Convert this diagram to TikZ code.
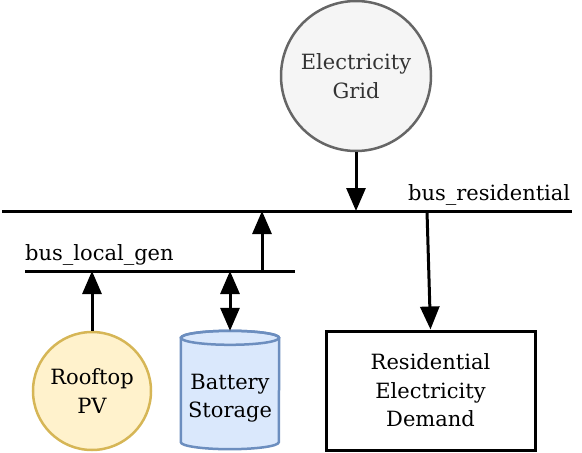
\documentclass[tikz,border=0pt]{standalone}
\usepackage{fontspec}
\setmainfont{DejaVu Serif}
\usetikzlibrary{arrows.meta,positioning}
\definecolor{gridfill}{HTML}{F5F5F5}
\definecolor{gridline}{HTML}{666666}
\definecolor{gridtext}{HTML}{333333}
\definecolor{pvfill}{HTML}{FFF2CC}
\definecolor{pvline}{HTML}{D6B656}
\definecolor{batfill}{HTML}{DAE8FC}
\definecolor{batline}{HTML}{6C8EBF}
\tikzset{
  every node/.style={font=\fontsize{21}{28.5}\selectfont, align=center, inner sep=0pt},
  busline/.style={line width=3pt},
  arr/.style={line width=3pt, -{Triangle[length=23pt,width=19pt]}},
  darr/.style={line width=3pt, {Triangle[length=23pt,width=19pt]}-{Triangle[length=23pt,width=19pt]}},
  buslabel/.style={anchor=base west},
}
\begin{document}
\begin{tikzpicture}[x=1pt,y=-1pt]
\useasboundingbox (0,0) rectangle (582,453);
% buses
\coordinate (bRw) at (2,211);
\coordinate (bRe) at (572,211);
\coordinate (bLw) at (25,271);
\coordinate (bLe) at (295,271);
\draw[busline] (bRw) -- (bRe);
\draw[busline] (bLw) -- (bLe);
\node[buslabel] (lblR) at (408,200) {bus\_residential};
\node[buslabel] (lblL) at (25,260) {bus\_local\_gen};
% grid
\node[circle, draw=gridline, fill=gridfill, line width=2.5pt, minimum size=150pt, text=gridtext] (grid) at (356,76) {Electricity\\Grid};
% PV
\node[circle, draw=pvline, fill=pvfill, line width=2.5pt, minimum size=118pt] (pv) at (92,391) {Rooftop\\PV};
% battery
\node[minimum width=98pt, minimum height=118pt] (batt) at (230,390) {};
\filldraw[draw=batline, fill=batfill, line width=2.5pt]
  ([yshift=-7pt]batt.north west) -- ([yshift=7pt]batt.south west)
  arc[start angle=180, end angle=360, x radius=49pt, y radius=7pt]
  -- ([yshift=-7pt]batt.north east)
  arc[start angle=0, end angle=180, x radius=49pt, y radius=7pt] -- cycle;
\draw[draw=batline, line width=2.5pt] ([yshift=-7pt]batt.north) ellipse[x radius=49pt, y radius=7pt];
\node (battxt) at (230,398) {Battery\\Storage};
% demand
\node[draw, line width=3pt, minimum width=209pt, minimum height=119pt] (dem) at (430.5,390.5) {Residential\\Electricity\\Demand};
% connection points
\coordinate (gridIn) at (356,211);
\coordinate (lgOut) at (262,271);
\coordinate (rgIn) at (262,211);
\coordinate (pvIn) at (92,271);
\coordinate (battIn) at (230,271);
\coordinate (resOut) at (427,211);
% connectors
\draw[arr] (grid.south) -- (gridIn);
\draw[arr] (lgOut) -- (rgIn);
\draw[arr] (pv.north) -- (pvIn);
\draw[darr] (battIn) -- (batt.north);
\draw[arr] (resOut) -- (dem.north);
\end{tikzpicture}
\end{document}
